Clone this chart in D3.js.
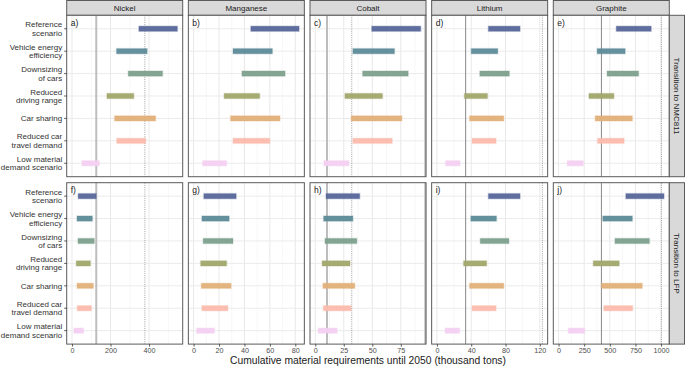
<!DOCTYPE html>
<html>
<head>
<meta charset="utf-8">
<script src="https://cdn.jsdelivr.net/npm/d3@7"></script>
<style>
  body { margin: 0; background: #fff; }
  text { font-family: "Liberation Sans", Arial, sans-serif; }
</style>
</head>
<body>
<svg id="chart" width="685" height="369"></svg>
<script>
// categories (top to bottom)
var categories = [
  "Reference\nscenario",
  "Vehicle energy\nefficiency",
  "Downsizing\nof cars",
  "Reduced\ndriving range",
  "Car sharing",
  "Reduced car\ntravel demand",
  "Low material\ndemand scenario"
];
var materials = ["Nickel", "Manganese", "Cobalt", "Lithium", "Graphite"];
var transitions = ["Transition to NMC811", "Transition to LFP"];
var panelTags = [["a)", "b)", "c)", "d)", "e)"], ["f)", "g)", "h)", "i)", "j)"]];
var xTicks = [[0, 200, 400], [0, 20, 40, 60, 80], [0, 25, 50, 75], [0, 40, 80, 120], [0, 250, 500, 750, 1000]];

// [low, high] ranges per category, thousand tons
var nickelNMC    = [[347, 547], [231, 390], [292, 470], [181, 321], [221, 434], [232, 383], [51, 142]];
var nickelLFP    = [[32, 126], [26, 106], [31, 116], [22, 96], [26, 111], [27, 101], [10, 60]];
var manganeseNMC = [[45, 83], [31, 62], [38, 72], [24, 52], [29, 68], [31, 60], [7, 26]];
var manganeseLFP = [[8, 33.5], [6.5, 28], [7.5, 31], [5.5, 26], [6, 29.5], [6.5, 27], [2.3, 16.5]];
var cobaltNMC    = [[49.5, 92.5], [33, 69.5], [41.5, 81.5], [26, 59], [31.5, 76], [33, 67.5], [7.5, 29.5]];
var cobaltLFP    = [[9.4, 39], [7.3, 33], [8.5, 36.5], [6, 30.5], [6.7, 34.7], [7, 31.5], [2.6, 19.2]];
var lithiumNMC   = [[60, 97], [40, 71], [50, 84.5], [32, 59], [38, 78], [41, 69], [10, 27]];
var lithiumLFP   = [[60, 97], [39.5, 69.5], [50.5, 84], [31, 58], [38, 78], [41, 69], [9.5, 26.5]];
var graphiteNMC  = [[563, 904], [376, 650], [473, 781], [296, 540], [357, 720], [380, 640], [84, 241]];
var graphiteLFP  = [[656, 1029], [431, 720], [550, 887], [338, 592], [418, 817], [441, 723], [94, 255]];

// reference lines per material (null = none)
var thickLines  = [[126], [], [10.3, 96.5], [], []];
var thinLines   = [[], [], [], [33.5], [418]];
var dottedLines = [[378], [], [32], [123], [1003]];

var seriesColors = ["#56669a", "#5d8a98", "#7da08c", "#a1a76a", "#e2b078", "#fbbbad", "#f4d0f2"];

var values = [
  [nickelNMC, manganeseNMC, cobaltNMC, lithiumNMC, graphiteNMC],
  [nickelLFP, manganeseLFP, cobaltLFP, lithiumLFP, graphiteLFP]
];

// layout
var svg = d3.select("#chart");
var left0 = 66.7, panelW = 116, gapX = 5.65;
var stripH = 15.3, rowTop = [15.3, 182.7], panelH = 161.4;
var rightStripW = 15.7;
var borderCol = "#5a5a5a";

var y = d3.scalePoint().domain(d3.range(categories.length)).range([0, panelH]).padding(0.6);

materials.forEach(function(mat, j) {
  var px = left0 + j * (panelW + gapX);
  var all = [0];
  values.forEach(function(r) { r[j].forEach(function(d) { all.push(d[0], d[1]); }); });
  dottedLines[j].concat(thinLines[j]).forEach(function(v) { all.push(v); });
  var ext = d3.extent(all), pad = (ext[1] - ext[0]) * 0.05;
  var x = d3.scaleLinear().domain([ext[0] - pad, ext[1] + pad]).range([0, panelW]);
  var ticks = xTicks[j];
  var minor = [];
  for (var k = 0; k < ticks.length; k++) {
    var step = ticks[1] - ticks[0];
    var m = ticks[k] + step / 2;
    if (m < x.domain()[1]) minor.push(m);
  }

  // strip on top
  var strip = svg.append("g").attr("transform", "translate(" + px + ",0.5)");
  strip.append("rect").attr("width", panelW).attr("height", stripH - 0.5)
    .attr("fill", "#d9d9d9").attr("stroke", borderCol).attr("stroke-width", 1);
  strip.append("text").attr("x", panelW / 2).attr("y", 10.3)
    .attr("text-anchor", "middle").attr("font-size", 8).attr("fill", "#1a1a1a").text(mat);

  values.forEach(function(rowVals, r) {
    var g = svg.append("g").attr("transform", "translate(" + px + "," + rowTop[r] + ")");
    g.append("rect").attr("width", panelW).attr("height", panelH).attr("fill", "#fff");

    g.selectAll(".minor").data(minor).enter().append("line")
      .attr("x1", function(d) { return x(d); }).attr("x2", function(d) { return x(d); })
      .attr("y1", 0).attr("y2", panelH).attr("stroke", "#f2f2f2").attr("stroke-width", 0.6);
    g.selectAll(".major").data(ticks).enter().append("line")
      .attr("x1", function(d) { return x(d); }).attr("x2", function(d) { return x(d); })
      .attr("y1", 0).attr("y2", panelH).attr("stroke", "#e8e8e8").attr("stroke-width", 1);
    g.selectAll(".hgrid").data(categories).enter().append("line")
      .attr("x1", 0).attr("x2", panelW)
      .attr("y1", function(d, i) { return y(i); }).attr("y2", function(d, i) { return y(i); })
      .attr("stroke", "#ebebeb").attr("stroke-width", 1);

    // reference lines
    g.selectAll(".thick").data(thickLines[j]).enter().append("line")
      .attr("x1", function(d) { return x(d); }).attr("x2", function(d) { return x(d); })
      .attr("y1", 0).attr("y2", panelH).attr("stroke", "#bdbdbd").attr("stroke-width", 2);
    g.selectAll(".thin").data(thinLines[j]).enter().append("line")
      .attr("x1", function(d) { return x(d); }).attr("x2", function(d) { return x(d); })
      .attr("y1", 0).attr("y2", panelH).attr("stroke", "#7a7a7a").attr("stroke-width", 0.9);
    g.selectAll(".dotted").data(dottedLines[j]).enter().append("line")
      .attr("x1", function(d) { return x(d); }).attr("x2", function(d) { return x(d); })
      .attr("y1", 0).attr("y2", panelH).attr("stroke", "#777").attr("stroke-width", 0.7)
      .attr("stroke-dasharray", "1,1.2");

    // bars
    g.selectAll(".bar").data(rowVals[j]).enter().append("rect")
      .attr("x", function(d) { return x(d[0]); })
      .attr("y", function(d, i) { return y(i) - 2.6; })
      .attr("width", function(d) { return x(d[1]) - x(d[0]); })
      .attr("height", 5.2)
      .attr("fill", function(d, i) { return seriesColors[i]; })
      .attr("fill-opacity", 0.95)
      .attr("stroke", function(d, i) { return seriesColors[i]; })
      .attr("stroke-opacity", 0.25).attr("stroke-width", 1.4);

    g.append("rect").attr("width", panelW).attr("height", panelH)
      .attr("fill", "none").attr("stroke", borderCol).attr("stroke-width", 1);

    g.append("text").attr("x", 4).attr("y", 10.5).attr("font-size", 8.5)
      .attr("fill", "#1a1a1a").text(panelTags[r][j]);

    // x axis on bottom row
    if (r === 1) {
      var ax = g.append("g").attr("transform", "translate(0," + panelH + ")")
        .call(d3.axisBottom(x).tickValues(ticks).tickSize(2.5).tickPadding(1.5).tickFormat(d3.format("d")));
      ax.select(".domain").remove();
      ax.selectAll(".tick line").attr("stroke", "#333").attr("stroke-width", 0.8);
      ax.selectAll(".tick text").attr("font-size", 7.2).attr("fill", "#4d4d4d")
        .attr("font-family", "Liberation Sans, Arial, sans-serif");
    }

    // y axis on first column
    if (j === 0) {
      var ay = g.append("g");
      categories.forEach(function(c, i) {
        ay.append("line").attr("x1", -2.5).attr("x2", 0).attr("y1", y(i)).attr("y2", y(i))
          .attr("stroke", "#333").attr("stroke-width", 0.8);
        var lines = c.split("\n");
        var t = ay.append("text").attr("text-anchor", "end").attr("font-size", 8)
          .attr("fill", "#333");
        lines.forEach(function(l, li) {
          t.append("tspan").attr("x", -4.5)
            .attr("y", y(i) + 2.8 + (li - (lines.length - 1) / 2) * 8.4).text(l);
        });
      });
    }
  });
});

// right strips
transitions.forEach(function(t, r) {
  var sx = left0 + 5 * panelW + 4 * gapX;
  var g = svg.append("g").attr("transform", "translate(" + sx + "," + rowTop[r] + ")");
  g.append("rect").attr("width", rightStripW - 0.5).attr("height", panelH)
    .attr("fill", "#d9d9d9").attr("stroke", borderCol).attr("stroke-width", 1);
  g.append("text").attr("transform", "translate(" + (rightStripW / 2 - 3) + "," + panelH / 2 + ") rotate(90)")
    .attr("text-anchor", "middle").attr("font-size", 8).attr("fill", "#1a1a1a").text(t);
});

// axis title
svg.append("text")
  .attr("x", left0 + (5 * panelW + 4 * gapX) / 2).attr("y", 363.5)
  .attr("text-anchor", "middle").attr("font-size", 10.3).attr("fill", "#1a1a1a")
  .text("Cumulative material requirements until 2050 (thousand tons)");
</script>
</body>
</html>
